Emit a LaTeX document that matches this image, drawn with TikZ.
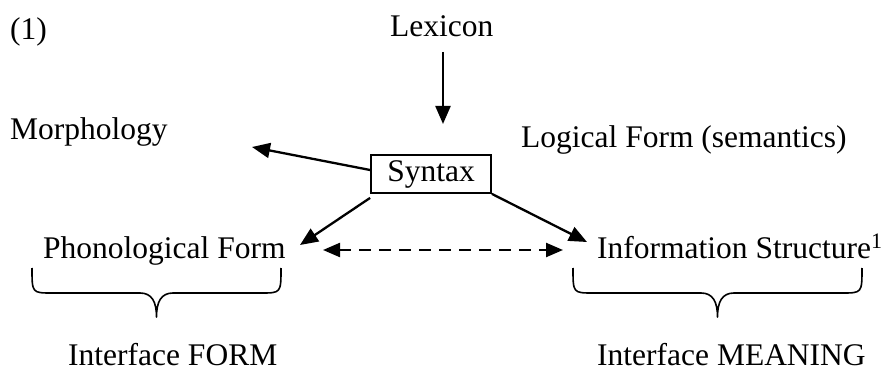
\documentclass[tikz,border=0pt]{standalone}
\usepackage{fontspec}
\setmainfont{Liberation Serif}
\usetikzlibrary{arrows.meta}
\begin{document}
\begin{tikzpicture}[x=1pt,y=1pt,
  lbl/.style={inner sep=0pt,anchor=base west,font=\fontsize{31.5}{36}\selectfont},
  boxed/.style={draw,line width=1.8pt,inner sep=0pt,minimum width=120pt,minimum height=38pt,font=\fontsize{31.5}{36}\selectfont},
  link/.style={line width=2.3pt,-{Triangle[length=18pt,width=15pt]}},
  dlink/.style={line width=2.3pt,dash pattern=on 12pt off 8pt,{Triangle[length=17pt,width=14pt]}-{Triangle[length=17pt,width=14pt]}},
  curly/.style={line width=1.6pt,line join=round}]
\useasboundingbox (0,0) rectangle (884,370);

% labels
\node[lbl] (num) at (10,330) {(1)};
\node[lbl] (lex) at (390,333) {Lexicon};
\node[lbl] (mor) at (10,230) {Morphology};
\node[lbl] (lf)  at (521,222) {Logical Form (semantics)};
\node[lbl] (pf)  at (43,112) {Phonological Form};
\node[lbl] (is)  at (597,112) {Information Structure\textsuperscript{1}};
\node[lbl,text depth=0pt] (iff) at (68,5) {Interface FORM};
\node[lbl,text depth=0pt] (ifm) at (597,5) {Interface MEANING};

% the syntax module
\node[boxed] (syn) at (431,196) {Syntax};

% arrow ends
\coordinate (lexend) at (443,246);
\coordinate (lexstart) at (443,318);
\coordinate (morend) at (252,223);
\coordinate (pfend) at (300,125);
\coordinate (isend) at (587,128);
\coordinate (dl) at (323,120);
\coordinate (dr) at (563,120);

\draw[link] (lexstart) -- (lexend);
\draw[link] (syn.west |- 0,200) -- (morend);
\draw[link] ([yshift=-4pt]syn.south west) -- (pfend);
\draw[link] (syn.south east) -- (isend);
\draw[dlink] (dl) -- (dr);

% interface braces (ends turn down from the labels, tip points at the caption)
\draw[curly] (32,102) .. controls (32,77) and (32,77) .. (52,77)
  -- (140,77) .. controls (152,77) and (156.5,68) .. (156.5,53)
  .. controls (156.5,68) and (161,77) .. (173,77)
  -- (261,77) .. controls (281,77) and (281,77) .. (281,102);
\draw[curly] (573,102) .. controls (573,77) and (573,77) .. (593,77)
  -- (701,77) .. controls (713,77) and (717.5,68) .. (717.5,53)
  .. controls (717.5,68) and (722,77) .. (734,77)
  -- (842,77) .. controls (862,77) and (862,77) .. (862,102);
\end{tikzpicture}
\end{document}
